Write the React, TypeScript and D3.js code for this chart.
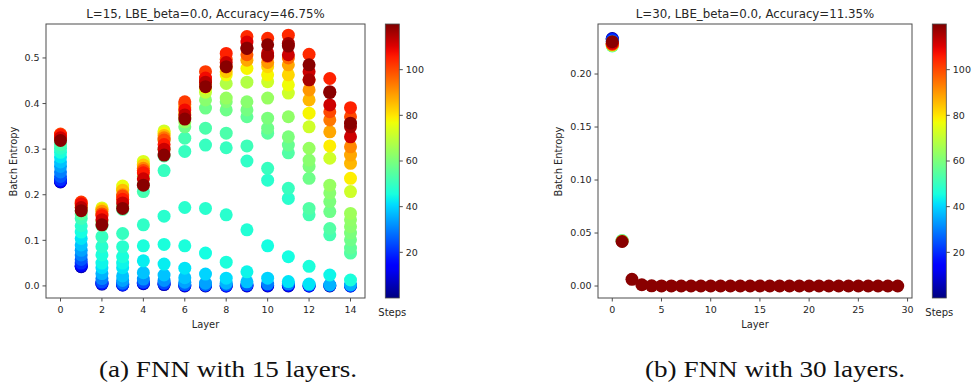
import React from "react";
import * as d3 from "d3";

// ---------- data: [step, batch entropy] per layer (15-layer FNN) ----------
const L0 = [[2,0.228],[8,0.229],[14,0.230],[20,0.233],[25,0.240],[30,0.250],[34,0.262],[38,0.272],[42,0.283],[46,0.293],[49,0.302],[52,0.310],[56,0.318],[62,0.322],[70,0.325],[80,0.328],[90,0.331],[100,0.333],[106,0.331],[112,0.325],[119,0.319]];
const L1 = [[2,0.042],[8,0.043],[14,0.045],[20,0.050],[25,0.058],[30,0.068],[34,0.078],[38,0.090],[42,0.104],[45,0.118],[48,0.132],[51,0.148],[55,0.158],[62,0.165],[72,0.172],[82,0.177],[92,0.182],[102,0.184],[108,0.180],[114,0.172],[119,0.165]];
const L2 = [[2,0.004],[10,0.005],[18,0.006],[24,0.009],[30,0.016],[36,0.027],[41,0.040],[44,0.050],[46,0.068],[48,0.086],[50,0.108],[55,0.132],[62,0.140],[70,0.158],[74,0.171],[82,0.168],[90,0.164],[100,0.158],[106,0.154],[112,0.145],[119,0.134]];
const L3 = [[2,0.002],[12,0.002],[20,0.003],[28,0.006],[34,0.012],[38,0.022],[42,0.040],[44,0.050],[46,0.064],[48,0.086],[50,0.115],[54,0.168],[60,0.175],[66,0.190],[72,0.212],[76,0.219],[85,0.210],[92,0.200],[100,0.197],[106,0.190],[112,0.182],[119,0.170]];
const L4 = [[2,0.005],[14,0.006],[24,0.008],[32,0.015],[38,0.029],[43,0.055],[46,0.088],[49,0.134],[52,0.207],[58,0.222],[65,0.240],[72,0.265],[74,0.273],[84,0.265],[92,0.258],[100,0.253],[106,0.248],[112,0.235],[119,0.221]];
const L5 = [[2,0.003],[14,0.004],[24,0.006],[32,0.012],[38,0.024],[43,0.048],[46,0.091],[48,0.153],[50,0.253],[54,0.285],[60,0.300],[66,0.320],[72,0.340],[78,0.335],[86,0.330],[94,0.325],[100,0.320],[106,0.310],[112,0.300],[119,0.287]];
const L6 = [[2,0.000],[14,0.001],[26,0.003],[34,0.008],[38,0.018],[42,0.039],[46,0.088],[48,0.172],[50,0.295],[52,0.324],[58,0.349],[64,0.360],[72,0.370],[80,0.380],[88,0.390],[96,0.398],[102,0.404],[108,0.386],[114,0.375],[119,0.366]];
const L7 = [[2,0.000],[14,0.001],[26,0.002],[34,0.006],[40,0.026],[45,0.072],[48,0.170],[50,0.309],[53,0.346],[58,0.390],[62,0.408],[70,0.425],[78,0.435],[86,0.445],[94,0.455],[102,0.470],[108,0.456],[114,0.447],[119,0.437]];
const L8 = [[2,0.000],[14,0.000],[26,0.002],[36,0.006],[41,0.017],[46,0.052],[48,0.156],[50,0.303],[53,0.335],[58,0.386],[61,0.404],[64,0.412],[68,0.444],[77,0.463],[84,0.470],[92,0.480],[100,0.497],[105,0.510],[112,0.490],[119,0.481]];
const L9 = [[2,0.000],[14,0.001],[26,0.003],[38,0.009],[44,0.031],[47,0.123],[49,0.274],[51,0.307],[56,0.371],[59,0.386],[62,0.404],[68,0.447],[78,0.477],[88,0.495],[98,0.507],[104,0.547],[110,0.535],[116,0.522],[119,0.521]];
const L10 = [[2,0.000],[14,0.001],[30,0.004],[40,0.017],[45,0.088],[48,0.232],[50,0.258],[55,0.335],[58,0.346],[60,0.368],[64,0.412],[72,0.448],[78,0.463],[82,0.481],[90,0.490],[98,0.503],[104,0.543],[112,0.511],[116,0.505],[119,0.529]];
const L11 = [[2,0.000],[14,0.001],[30,0.004],[42,0.0095],[45,0.064],[48,0.192],[50,0.214],[54,0.292],[57,0.309],[60,0.327],[63,0.371],[72,0.423],[77,0.441],[82,0.463],[88,0.485],[96,0.500],[104,0.550],[112,0.507],[116,0.532],[119,0.526]];
const L12 = [[2,0.000],[14,0.000],[30,0.002],[42,0.004],[46,0.043],[52,0.156],[54,0.170],[58,0.236],[60,0.262],[62,0.276],[64,0.302],[72,0.349],[78,0.379],[86,0.408],[90,0.430],[98,0.452],[104,0.508],[112,0.470],[116,0.452],[119,0.485]];
const L13 = [[2,0.000],[20,0.001],[36,0.002],[44,0.024],[52,0.112],[54,0.126],[58,0.163],[60,0.185],[62,0.204],[64,0.221],[72,0.280],[79,0.307],[88,0.338],[94,0.364],[100,0.382],[105,0.455],[112,0.397],[116,0.426],[119,0.424]];
const L14 = [[2,0.000],[20,0.000],[36,0.002],[46,0.013],[54,0.072],[56,0.083],[58,0.101],[60,0.116],[62,0.130],[63,0.145],[65,0.159],[72,0.207],[79,0.236],[86,0.269],[88,0.287],[92,0.305],[100,0.371],[105,0.391],[112,0.327],[116,0.349],[119,0.357]];
const LEFT_LAYERS = [L0, L1, L2, L3, L4, L5, L6, L7, L8, L9, L10, L11, L12, L13, L14];

// ---------- data: 30-layer FNN ----------
const R0 = [[2,0.2335],[10,0.233],[20,0.2325],[30,0.231],[40,0.2285],[50,0.2265],[60,0.2268],[70,0.2272],[80,0.2276],[90,0.228],[100,0.2282],[110,0.229],[119,0.2305]];
const R1 = [[10,0.0425],[50,0.043],[80,0.0425],[119,0.042]];
const R_TAIL = [0.0063, 0.0012, 0.0002, 0.0001, 0.0001, 0, 0, 0, 0, 0, 0, 0, 0, 0, 0, 0, 0, 0, 0, 0, 0, 0, 0, 0, 0, 0, 0, 0]; // layers 2..29 at final step
const R_TAIL_STEP = 119;

const LEFT_XTICKS = [0, 2, 4, 6, 8, 10, 12, 14];
const LEFT_YTICKS = [0.0, 0.1, 0.2, 0.3, 0.4, 0.5];
const RIGHT_XTICKS = [0, 5, 10, 15, 20, 25, 30];
const RIGHT_YTICKS = [0.0, 0.05, 0.1, 0.15, 0.2];
const CBAR_TICKS = [20, 40, 60, 80, 100];
const STEP_RANGE = [0, 120];

const LEFT_TITLE = "L=15, LBE_beta=0.0, Accuracy=46.75%";
const RIGHT_TITLE = "L=30, LBE_beta=0.0, Accuracy=11.35%";
const CAPTION_A = "(a) FNN with 15 layers.";
const CAPTION_B = "(b) FNN with 30 layers.";

// ---------- jet colormap ----------
const jr = d3.scaleLinear().domain([0, 0.35, 0.66, 0.89, 1]).range([0, 0, 1, 1, 0.5]).clamp(true);
const jg = d3.scaleLinear().domain([0, 0.125, 0.375, 0.64, 0.91, 1]).range([0, 0, 1, 1, 0, 0]).clamp(true);
const jb = d3.scaleLinear().domain([0, 0.11, 0.34, 0.65, 1]).range([0.5, 1, 1, 0, 0]).clamp(true);
const jet = (t: number) => d3.rgb(jr(t) * 255, jg(t) * 255, jb(t) * 255).formatHex();
const stepNorm = d3.scaleLinear().domain(STEP_RANGE).range([0, 1]);
const stepColor = (s: number) => jet(stepNorm(s));

const FONT = "DejaVu Sans, sans-serif";
const TXT = "#262626";
const AX = "#4d4d4d";
const R = 6.5;

type Pt = number[];

function Panel(props: {
  x0: number; x1: number; y0: number; y1: number;
  xDomain: [number, number]; yDomain: [number, number];
  xticks: number[]; yticks: number[]; yfmt: (v: number) => string;
  layers: Pt[][]; title: string; ylabX: number; cbX: number; id: string;
}) {
  const { x0, x1, y0, y1, xDomain, yDomain, xticks, yticks, yfmt, layers, title, ylabX, cbX, id } = props;
  const xs = d3.scaleLinear().domain(xDomain).range([x0, x1]);
  const ys = d3.scaleLinear().domain(yDomain).range([y1, y0]);
  const cs = d3.scaleLinear().domain(STEP_RANGE).range([y1, y0]);
  const cbW = 14;
  const stops = d3.range(0, 1.0001, 0.02);
  return (
    <g>
      <defs>
        <linearGradient id={id} x1="0" y1="1" x2="0" y2="0">
          {stops.map((t) => (
            <stop key={t} offset={t} stopColor={jet(t)} />
          ))}
        </linearGradient>
        <clipPath id={id + "clip"}>
          <rect x={x0} y={y0} width={x1 - x0} height={y1 - y0} />
        </clipPath>
      </defs>
      <text x={(x0 + x1) / 2} y={17.5} textAnchor="middle" fontFamily={FONT} fontSize={11.8} fill={TXT}>{title}</text>
      <g clipPath={`url(#${id}clip)`}>
        {layers.map((pts, li) =>
          [...pts].sort((a, b) => a[0] - b[0]).map((p, k) => (
            <circle key={li + "-" + k} cx={xs(li)} cy={ys(p[1])} r={R} fill={stepColor(p[0])} />
          ))
        )}
      </g>
      <rect x={x0} y={y0} width={x1 - x0} height={y1 - y0} fill="none" stroke={AX} strokeWidth={1} />
      {xticks.map((t) => (
        <g key={"x" + t}>
          <line x1={xs(t)} x2={xs(t)} y1={y1} y2={y1 + 3.5} stroke={AX} />
          <text x={xs(t)} y={y1 + 14.7} textAnchor="middle" fontFamily={FONT} fontSize={9.5} fill={TXT}>{t}</text>
        </g>
      ))}
      {yticks.map((t) => (
        <g key={"y" + t}>
          <line x1={x0 - 3.5} x2={x0} y1={ys(t)} y2={ys(t)} stroke={AX} />
          <text x={x0 - 6.5} y={ys(t) + 3.4} textAnchor="end" fontFamily={FONT} fontSize={9.5} fill={TXT}>{yfmt(t)}</text>
        </g>
      ))}
      <text x={(x0 + x1) / 2} y={327.5} textAnchor="middle" fontFamily={FONT} fontSize={9.9} fill={TXT}>Layer</text>
      <text transform={`translate(${ylabX},${161.5}) rotate(-90)`} textAnchor="middle" fontFamily={FONT} fontSize={9.9} fill={TXT}>Batch Entropy</text>
      {/* colorbar */}
      <rect x={cbX} y={y0} width={cbW} height={y1 - y0} fill={`url(#${id})`} stroke={AX} strokeWidth={0.8} />
      {CBAR_TICKS.map((t) => (
        <g key={"c" + t}>
          <line x1={cbX + cbW} x2={cbX + cbW + 3.5} y1={cs(t)} y2={cs(t)} stroke={AX} />
          <text x={cbX + cbW + 6.5} y={cs(t) + 3.4} fontFamily={FONT} fontSize={9.5} fill={TXT}>{t}</text>
        </g>
      ))}
      <text x={cbX + cbW / 2} y={315.5} textAnchor="middle" fontFamily={FONT} fontSize={10} fill={TXT}>Steps</text>
    </g>
  );
}

export default function App() {
  const rightLayers: Pt[][] = [R0, R1, ...R_TAIL.map((v) => [[R_TAIL_STEP, v]])];
  return (
    <svg width={972} height={383} style={{ position: "absolute", left: 0, top: 0, background: "#fff" }}>
      <rect x={0} y={0} width={972} height={383} fill="#fff" />
      <Panel
        id="cbA" x0={46} x1={365} y0={24} y1={298}
        xDomain={[-0.7, 14.7]} yDomain={[-0.0265, 0.5745]}
        xticks={LEFT_XTICKS} yticks={LEFT_YTICKS} yfmt={(v) => v.toFixed(1)}
        layers={LEFT_LAYERS} title={LEFT_TITLE} ylabX={16.5} cbX={385.3}
      />
      <Panel
        id="cbB" x0={598} x1={912} y0={24} y1={298}
        xDomain={[-1.45, 30.45]} yDomain={[-0.0113, 0.2472]}
        xticks={RIGHT_XTICKS} yticks={RIGHT_YTICKS} yfmt={(v) => v.toFixed(2)}
        layers={rightLayers} title={RIGHT_TITLE} ylabX={561.5} cbX={932.3}
      />
      <text x={228} y={377} textAnchor="middle" fontFamily="Liberation Serif, serif" fontSize={24} fill="#111" textLength={258} lengthAdjust="spacingAndGlyphs">{CAPTION_A}</text>
      <text x={775} y={377} textAnchor="middle" fontFamily="Liberation Serif, serif" fontSize={24} fill="#111" textLength={260} lengthAdjust="spacingAndGlyphs">{CAPTION_B}</text>
    </svg>
  );
}
